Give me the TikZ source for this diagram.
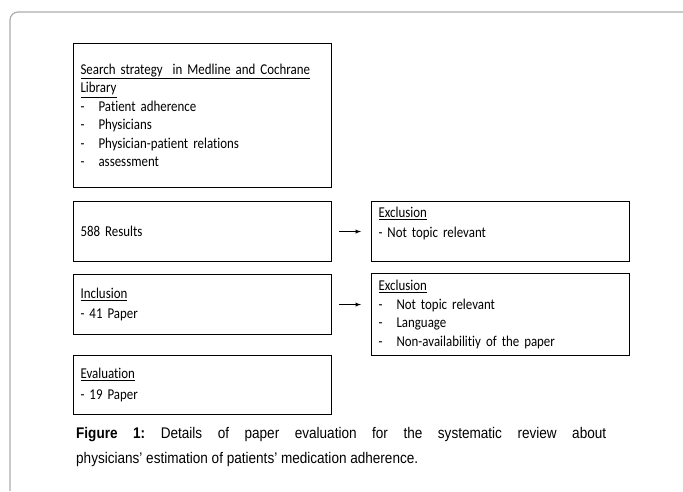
\documentclass[tikz,border=0pt]{standalone}
\usepackage{fontspec}
\setmainfont[FakeStretch=0.86, WordSpace=0.8, Ligatures=CommonOff]{Carlito}
\newfontfamily\capfont[FakeStretch=0.88]{Liberation Sans}
\usetikzlibrary{positioning}
\frenchspacing

% list item with a dash in front
\newcommand{\itm}[1]{\makebox[18pt][l]{-}#1}

\begin{document}
\begin{tikzpicture}[x=1pt, y=-1pt]
        % Define block styles
        \tikzstyle{block} = [rectangle, draw, line width=1.1pt, anchor=north west,
            minimum width=258pt, text width=244pt, inner xsep=7pt,
            font=\fontsize{15}{18.5}\selectfont]
        \tikzstyle{line} = [draw, line width=0.9pt, -latex]
        \tikzstyle{frame} = [draw=gray!65, line width=1.2pt, rounded corners=8pt]

        \useasboundingbox (0,0) rectangle (683,491);
        \path [frame] (10,491) -- (10,12) -- (683,12);

        % Nodes
        \node [block, minimum height=144pt] (search) at (73,43) {%
            \underline{Search strategy\ \ in Medline and Cochrane}\\
            \underline{Library}\\
            \itm{Patient adherence}\\
            \itm{Physicians}\\
            \itm{Physician-patient relations}\\
            \itm{assessment}};
        \node [block, minimum height=60pt] (results) at (73,201) {588 Results};
        \node [block, minimum height=60pt] (inclusion) at (73,274) {%
            \underline{Inclusion}\\[2pt]- 41 Paper};
        \node [block, minimum height=59pt] (evaluation) at (73,355) {%
            \underline{Evaluation}\\[2pt]- 19 Paper};
        \node [block, minimum height=60pt] (excl1) at (371,201) {%
            \underline{Exclusion}\\[2pt]- Not topic relevant\\ \mbox{}};
        \node [block, minimum height=82pt] (excl2) at (371,273) {%
            \underline{Exclusion}\\
            \itm{Not topic relevant}\\
            \itm{Language}\\
            \itm{Non-availabilitiy of the paper}};

        % Arrows
        \coordinate (a1) at ([xshift=7pt]results.east);
        \coordinate (a2) at ([xshift=7pt]inclusion.east);
        \path [line] (a1) -- ([xshift=-10pt]a1 -| excl1.west);
        \path [line] (a2) -- ([xshift=-10pt]a2 -| excl2.west);

        % Caption
        \node [anchor=north west, text width=530pt, align=justify, inner sep=0pt,
            font=\capfont\fontsize{15.4}{25}\selectfont] (caption) at (76,427) {%
            \textbf{Figure 1:} Details of paper evaluation for the systematic review about\linebreak
            physicians’ estimation of patients’ medication adherence.};

    \end{tikzpicture}
\end{document}
